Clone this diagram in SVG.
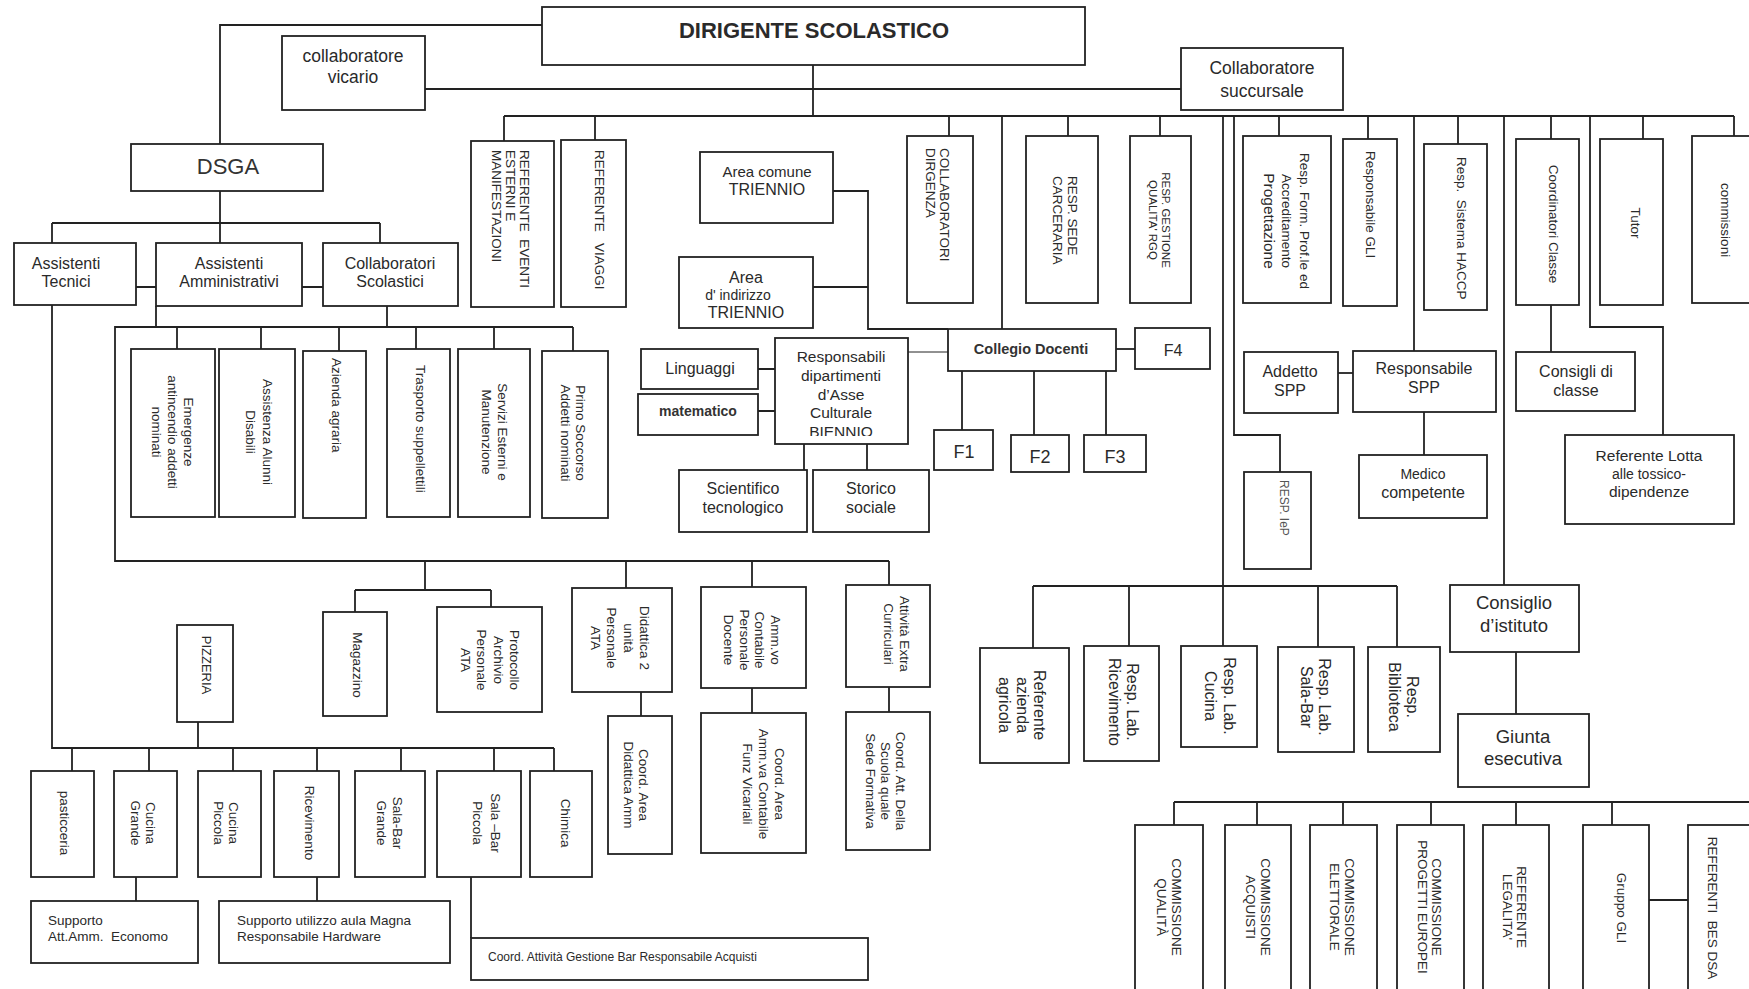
<svg xmlns="http://www.w3.org/2000/svg" width="1749" height="989" viewBox="0 0 1749 989">
<style>
rect{fill:#fff;stroke:#222;stroke-width:1.8}
.c path{fill:none;stroke:#222;stroke-width:1.8}
.c path.thin{stroke-width:1}
text{font-family:"Liberation Sans",Arial,sans-serif;fill:#2a2a2a}
.h{font-size:16px;text-anchor:middle}
.v{font-size:13.5px;text-anchor:middle}
.s{text-anchor:start}
.l{font-size:16px;text-anchor:middle}
</style>
<defs>
<clipPath id="clipResp"><rect x="776" y="350" width="131" height="86"/></clipPath>
</defs>
<rect x="0" y="0" width="1749" height="989" style="fill:#fff;stroke:none"/>

<g class="c" id="connectors">
<path d="M542,25H220V144"/>
<path d="M425,89H1181"/>
<path d="M813,65V116"/>
<path d="M504,116H1734"/>
<path d="M504,116V141M595,116V140M949,116V136M1068,116V136M1160,116V136M1279,116V136M1368,116V139M1458,116V144M1551,116V139M1643,116V139M1734,116V136"/>
<path d="M1002,116V329"/>
<path d="M1223,116V646"/>
<path d="M1234,116V435H1280V472"/>
<path d="M1414,116V351"/>
<path d="M1504,116V585"/>
<path d="M1590,116V327H1663V435"/>
<path d="M1551,305V352"/>
<path d="M833,191H868V329H948"/>
<path d="M813,287H868"/>
<path class="thin" d="M908,352H948"/>
<path d="M1116,349H1135"/>
<path d="M962,371V430M1034,371V435M1106,371V435"/>
<path d="M758,369H775M758,411H775"/>
<path d="M804,444V470M867,444V470"/>
<path d="M1338,373H1353"/>
<path d="M1424,412V455"/>
<path d="M1516,652V714"/>
<path d="M1033,586H1397M1033,586V648M1129,586V646M1318,586V647M1397,586V647"/>
<path d="M1174,802H1760M1174,802V825M1257,802V825M1343,802V825M1431,802V825M1516,802V825M1612,802V825"/>
<path d="M1649,900H1688"/>
<path d="M220,191V243M52,223H380M52,223V243M380,223V243"/>
<path d="M136,287H156M302,287H323"/>
<path d="M156,306V327H115V561H889"/>
<path d="M387,306V327M115,327H573"/>
<path d="M177,327V349M261,327V349M339,327V351M416,327V349M494,327V349M573,327V351"/>
<path d="M425,561V590M355,590H491M355,590V612M491,590V607M626,561V588M752,561V587M889,561V585"/>
<path d="M641,692V716M752,688V713M889,687V712"/>
<path d="M52,305V748H554M198,722V748"/>
<path d="M72,748V771M149,748V771M233,748V771M317,748V771M401,748V771M494,748V771M554,748V771"/>
<path d="M136,877V901M317,877V901M471,877V938"/>
</g>

<g id="n-dirigente"><rect x="542" y="7" width="543" height="58"/><text x="814" y="38" style="font-size:22px;font-weight:bold;text-anchor:middle">DIRIGENTE SCOLASTICO</text></g>
<g id="n-vicario"><rect x="282" y="36" width="143" height="74"/><text class="h" style="font-size:17.5px" x="353" y="62">collaboratore<tspan x="353" y="83">vicario</tspan></text></g>
<g id="n-succursale"><rect x="1181" y="48" width="162" height="62"/><text class="h" style="font-size:17.5px" x="1262" y="74">Collaboratore<tspan x="1262" y="97">succursale</tspan></text></g>
<g id="n-dsga"><rect x="131" y="144" width="192" height="47"/><text class="h" style="font-size:22px;fill:#333" x="228" y="174">DSGA</text></g>
<g id="n-ass-tecnici"><rect x="14" y="243" width="122" height="62"/><text class="h" x="66" y="269">Assistenti<tspan x="66" y="287">Tecnici</tspan></text></g>
<g id="n-ass-amm"><rect x="156" y="243" width="146" height="63"/><text class="h" x="229" y="269">Assistenti<tspan x="229" y="287">Amministrativi</tspan></text></g>
<g id="n-coll-scol"><rect x="323" y="243" width="135" height="63"/><text class="h" x="390" y="269">Collaboratori<tspan x="390" y="287">Scolastici</tspan></text></g>

<g id="n-ref-eventi"><rect x="471" y="141" width="83" height="166"/><text class="v s" transform="translate(520,150) rotate(90)"><tspan x="0" y="0">REFERENTE&#160; EVENTI</tspan><tspan x="0" dy="14">ESTERNI E</tspan><tspan x="0" dy="14">MANIFESTAZIONI</tspan></text></g>
<g id="n-ref-viaggi"><rect x="561" y="140" width="65" height="167"/><text class="v s" transform="translate(595,150) rotate(90)">REFERENTE&#160;&#160; VIAGGI</text></g>
<g id="n-area-comune"><rect x="700" y="152" width="133" height="71"/><text class="h" style="font-size:15px" x="767" y="177">Area comune</text><text class="h" x="767" y="195">TRIENNIO</text></g>
<g id="n-area-indirizzo"><rect x="679" y="257" width="134" height="71"/><text class="h" x="746" y="283">Area</text><text class="h" style="font-size:14px" x="738" y="300">d' indirizzo</text><text class="h" x="746" y="318">TRIENNIO</text></g>
<g id="n-collab-dirigenza"><rect x="907" y="136" width="66" height="167"/><text class="v s" transform="translate(940,148) rotate(90)"><tspan x="0" y="0">COLLABORATORI</tspan><tspan x="0" dy="14">DIRGENZA</tspan></text></g>
<g id="n-resp-sede"><rect x="1026" y="136" width="72" height="167"/><text class="v s" transform="translate(1068,176) rotate(90)"><tspan x="0" y="0">RESP. SEDE</tspan><tspan x="0" dy="15">CARCERARIA</tspan></text></g>
<g id="n-resp-gestione"><rect x="1130" y="136" width="61" height="167"/><text class="v" style="font-size:11.5px" transform="translate(1162,220) rotate(90)"><tspan x="0" y="0">RESP. GESTIONE</tspan><tspan x="0" dy="13">QUALITA' RGQ</tspan></text></g>
<g id="n-resp-form"><rect x="1243" y="136" width="88" height="167"/><text class="v" transform="translate(1300,221) rotate(90)"><tspan x="0" y="0">Resp. Form. Prof.le ed</tspan><tspan x="0" dy="18">Accreditamento</tspan><tspan x="0" dy="18" style="font-size:15.5px">Progettazione</tspan></text></g>
<g id="n-resp-gli"><rect x="1343" y="139" width="54" height="167"/><text class="v s" transform="translate(1366,151) rotate(90)">Responsabile GLI</text></g>
<g id="n-haccp"><rect x="1424" y="144" width="63" height="166"/><text class="v s" transform="translate(1457,157) rotate(90)">Resp.&#160; Sistema HACCP</text></g>
<g id="n-coordinatori"><rect x="1516" y="139" width="63" height="166"/><text class="v" transform="translate(1549,224) rotate(90)">Coordinatori Classe</text></g>
<g id="n-tutor"><rect x="1600" y="139" width="63" height="166"/><text class="v" transform="translate(1631,223) rotate(90)">Tutor</text></g>
<g id="n-commissioni"><rect x="1692" y="136" width="80" height="167"/><text class="v" transform="translate(1721,220) rotate(90)">commissioni</text></g>

<g id="n-emergenze"><rect x="131" y="349" width="84" height="168"/><text class="v" transform="translate(184,432) rotate(90)"><tspan x="0" y="0">Emergenze</tspan><tspan x="0" dy="16">antincendio addetti</tspan><tspan x="0" dy="16">nominati</tspan></text></g>
<g id="n-assistenza"><rect x="219" y="349" width="76" height="168"/><text class="v" transform="translate(263,432) rotate(90)"><tspan x="0" y="0">Assistenza Alunni</tspan><tspan x="0" dy="17">Disabili</tspan></text></g>
<g id="n-azienda"><rect x="303" y="351" width="63" height="167"/><text class="v s" transform="translate(332,358) rotate(90)">Azienda agraria</text></g>
<g id="n-trasporto"><rect x="387" y="349" width="63" height="168"/><text class="v s" transform="translate(416,365) rotate(90)">Trasporto suppellettili</text></g>
<g id="n-servizi"><rect x="458" y="349" width="72" height="168"/><text class="v" transform="translate(498,432) rotate(90)"><tspan x="0" y="0">Servizi Esterni e</tspan><tspan x="0" dy="16">Manutenzione</tspan></text></g>
<g id="n-primo"><rect x="542" y="351" width="66" height="167"/><text class="v" transform="translate(576,433) rotate(90)"><tspan x="0" y="0">Primo Soccorso</tspan><tspan x="0" dy="15">Addetti nominati</tspan></text></g>

<g id="n-linguaggi"><rect x="641" y="349" width="117" height="40"/><text class="h" x="700" y="374">Linguaggi</text></g>
<g id="n-matematico"><rect x="638" y="394" width="120" height="41"/><text class="h" style="font-size:14px;font-weight:bold;fill:#333" x="698" y="416">matematico</text></g>
<g id="n-resp-dip"><rect x="775" y="338" width="133" height="106"/><text class="h" style="font-size:15.5px" clip-path="url(#clipResp)" x="841" y="362">Responsabili<tspan x="841" y="381">dipartimenti</tspan><tspan x="841" y="400">d’Asse</tspan><tspan x="841" y="418">Culturale</tspan><tspan x="841" y="437">BIENNIO</tspan></text></g>
<g id="n-scientifico"><rect x="679" y="470" width="128" height="62"/><text class="h" x="743" y="494">Scientifico<tspan x="743" y="513">tecnologico</tspan></text></g>
<g id="n-storico"><rect x="813" y="470" width="116" height="62"/><text class="h" x="871" y="494">Storico<tspan x="871" y="513">sociale</tspan></text></g>
<g id="n-collegio"><rect x="948" y="329" width="168" height="42"/><text class="h" style="font-size:14.5px;font-weight:bold;fill:#333" x="1031" y="354">Collegio Docenti</text></g>
<g id="n-f4"><rect x="1135" y="328" width="75" height="41"/><text class="h" x="1173" y="356">F4</text></g>
<g id="n-f1"><rect x="934" y="430" width="59" height="40"/><text class="h" style="font-size:18px" x="964" y="458">F1</text></g>
<g id="n-f2"><rect x="1011" y="435" width="58" height="37"/><text class="h" style="font-size:18px" x="1040" y="463">F2</text></g>
<g id="n-f3"><rect x="1084" y="435" width="62" height="37"/><text class="h" style="font-size:18px" x="1115" y="463">F3</text></g>

<g id="n-addetto-spp"><rect x="1244" y="352" width="94" height="61"/><text class="h" x="1290" y="377">Addetto<tspan x="1290" y="396">SPP</tspan></text></g>
<g id="n-resp-spp"><rect x="1353" y="351" width="143" height="61"/><text class="h" x="1424" y="374">Responsabile<tspan x="1424" y="393">SPP</tspan></text></g>
<g id="n-medico"><rect x="1359" y="455" width="128" height="63"/><text class="h" style="font-size:14px" x="1423" y="479">Medico</text><text class="h" x="1423" y="498">competente</text></g>
<g id="n-resp-iep"><rect x="1244" y="472" width="67" height="97"/><text class="v s" style="font-size:12px;fill:#555" transform="translate(1280,480) rotate(90)">RESP. IeP</text></g>
<g id="n-consigli-classe"><rect x="1516" y="352" width="119" height="59"/><text class="h" x="1576" y="377">Consigli di<tspan x="1576" y="396">classe</tspan></text></g>
<g id="n-lotta"><rect x="1565" y="435" width="169" height="89"/><text class="h" style="font-size:15.5px" x="1649" y="461">Referente Lotta</text><text class="h" style="font-size:14px" x="1649" y="479">alle tossico-</text><text class="h" style="font-size:15.5px" x="1649" y="497">dipendenze</text></g>
<g id="n-consiglio-ist"><rect x="1450" y="585" width="129" height="67"/><text class="h" style="font-size:18.5px" x="1514" y="609">Consiglio<tspan x="1514" y="632">d’istituto</tspan></text></g>
<g id="n-giunta"><rect x="1458" y="714" width="131" height="73"/><text class="h" style="font-size:18.5px" x="1523" y="743">Giunta<tspan x="1523" y="765">esecutiva</tspan></text></g>

<g id="n-ref-azienda"><rect x="980" y="648" width="89" height="115"/><text class="v" style="font-size:16px" transform="translate(1034,705) rotate(90)"><tspan x="0" y="0">Referente</tspan><tspan x="0" dy="17.5">azienda</tspan><tspan x="0" dy="17.5">agricola</tspan></text></g>
<g id="n-lab-ricev"><rect x="1084" y="646" width="75" height="115"/><text class="v" style="font-size:16px" transform="translate(1127,702) rotate(90)"><tspan x="0" y="0">Resp. Lab.</tspan><tspan x="0" dy="18">Ricevimento</tspan></text></g>
<g id="n-lab-cucina"><rect x="1181" y="646" width="76" height="101"/><text class="v" style="font-size:16px" transform="translate(1224,696) rotate(90)"><tspan x="0" y="0">Resp. Lab.</tspan><tspan x="0" dy="19">Cucina</tspan></text></g>
<g id="n-lab-salabar"><rect x="1278" y="647" width="76" height="105"/><text class="v" style="font-size:16px" transform="translate(1319,697) rotate(90)"><tspan x="0" y="0">Resp. Lab.</tspan><tspan x="0" dy="18">Sala-Bar</tspan></text></g>
<g id="n-biblioteca"><rect x="1368" y="647" width="72" height="105"/><text class="v" style="font-size:16px" transform="translate(1407,697) rotate(90)"><tspan x="0" y="0">Resp.</tspan><tspan x="0" dy="18">Biblioteca</tspan></text></g>

<g id="n-comm-qualita"><rect x="1135" y="825" width="68" height="180"/><text class="v" transform="translate(1172,907) rotate(90)"><tspan x="0" y="0">COMMISSIONE</tspan><tspan x="0" dy="15">QUALITÀ</tspan></text></g>
<g id="n-comm-acquisti"><rect x="1225" y="825" width="66" height="180"/><text class="v" transform="translate(1261,907) rotate(90)"><tspan x="0" y="0">COMMISSIONE</tspan><tspan x="0" dy="15">ACQUISTI</tspan></text></g>
<g id="n-comm-elettorale"><rect x="1310" y="825" width="67" height="180"/><text class="v" transform="translate(1345,907) rotate(90)"><tspan x="0" y="0">COMMISSIONE</tspan><tspan x="0" dy="15">ELETTORALE</tspan></text></g>
<g id="n-comm-progetti"><rect x="1397" y="825" width="67" height="180"/><text class="v" transform="translate(1432,907) rotate(90)"><tspan x="0" y="0">COMMISSIONE</tspan><tspan x="0" dy="14">PROGETTI EUROPEI</tspan></text></g>
<g id="n-ref-legalita"><rect x="1483" y="825" width="66" height="180"/><text class="v" transform="translate(1517,907) rotate(90)"><tspan x="0" y="0">REFERENTE</tspan><tspan x="0" dy="14">LEGALITA'</tspan></text></g>
<g id="n-gruppo-gli"><rect x="1583" y="825" width="66" height="180"/><text class="v" transform="translate(1617,908) rotate(90)">Gruppo GLI</text></g>
<g id="n-ref-bes"><rect x="1688" y="825" width="80" height="180"/><text class="v" transform="translate(1708,908) rotate(90)">REFERENTI&#160; BES DSA</text></g>

<g id="n-magazzino"><rect x="323" y="612" width="64" height="104"/><text class="v" transform="translate(353,665) rotate(90)">Magazzino</text></g>
<g id="n-protocollo"><rect x="437" y="607" width="105" height="105"/><text class="v" transform="translate(510,660) rotate(90)"><tspan x="0" y="0">Protocollo</tspan><tspan x="0" dy="16.5">Archivio</tspan><tspan x="0" dy="16.5">Personale</tspan><tspan x="0" dy="16.5">ATA</tspan></text></g>
<g id="n-didattica"><rect x="572" y="588" width="100" height="104"/><text class="v" transform="translate(640,638) rotate(90)"><tspan x="0" y="0">Didattica 2</tspan><tspan x="0" dy="16.5">unità</tspan><tspan x="0" dy="16.5">Personale</tspan><tspan x="0" dy="16.5">ATA</tspan></text></g>
<g id="n-coord-didattica"><rect x="608" y="716" width="64" height="138"/><text class="v" transform="translate(639,785) rotate(90)"><tspan x="0" y="0">Coord. Area</tspan><tspan x="0" dy="15">Didattica Amm</tspan></text></g>
<g id="n-ammvo"><rect x="701" y="587" width="105" height="101"/><text class="v" transform="translate(771,640) rotate(90)"><tspan x="0" y="0">Amm.vo</tspan><tspan x="0" dy="15.7">Contabile</tspan><tspan x="0" dy="15.7">Personale</tspan><tspan x="0" dy="15.7">Docente</tspan></text></g>
<g id="n-coord-amm"><rect x="701" y="713" width="105" height="140"/><text class="v" transform="translate(775,784) rotate(90)"><tspan x="0" y="0">Coord. Area</tspan><tspan x="0" dy="16">Amm.va Contabile</tspan><tspan x="0" dy="16">Funz Vicariali</tspan></text></g>
<g id="n-attivita"><rect x="846" y="585" width="84" height="102"/><text class="v" transform="translate(900,634) rotate(90)"><tspan x="0" y="0">Attività Extra</tspan><tspan x="0" dy="16">Curriculari</tspan></text></g>
<g id="n-coord-att"><rect x="846" y="712" width="84" height="138"/><text class="v" transform="translate(896,781) rotate(90)"><tspan x="0" y="0">Coord. Att. Della</tspan><tspan x="0" dy="15">Scuola quale</tspan><tspan x="0" dy="15">Sede Formativa</tspan></text></g>

<g id="n-pizzeria"><rect x="177" y="625" width="56" height="97"/><text class="v" style="font-size:13px" transform="translate(202,665) rotate(90)">PIZZERIA</text></g>
<g id="n-pasticceria"><rect x="31" y="771" width="63" height="106"/><text class="v" transform="translate(60,823) rotate(90)">pasticceria</text></g>
<g id="n-cucina-grande"><rect x="114" y="771" width="63" height="106"/><text class="v" transform="translate(146,823) rotate(90)"><tspan x="0" y="0">Cucina</tspan><tspan x="0" dy="15">Grande</tspan></text></g>
<g id="n-cucina-piccola"><rect x="198" y="771" width="63" height="106"/><text class="v" transform="translate(229,823) rotate(90)"><tspan x="0" y="0">Cucina</tspan><tspan x="0" dy="15">Piccola</tspan></text></g>
<g id="n-ricevimento"><rect x="274" y="771" width="65" height="106"/><text class="v" transform="translate(305,823) rotate(90)">Ricevimento</text></g>
<g id="n-salabar-grande"><rect x="355" y="771" width="70" height="106"/><text class="v" transform="translate(393,823) rotate(90)"><tspan x="0" y="0">Sala-Bar</tspan><tspan x="0" dy="16">Grande</tspan></text></g>
<g id="n-salabar-piccola"><rect x="437" y="771" width="84" height="106"/><text class="v" transform="translate(491,823) rotate(90)"><tspan x="0" y="0">Sala –Bar</tspan><tspan x="0" dy="18">Piccola</tspan></text></g>
<g id="n-chimica"><rect x="530" y="771" width="62" height="106"/><text class="v" transform="translate(561,823) rotate(90)">Chimica</text></g>
<g id="n-supporto-att"><rect x="31" y="901" width="167" height="62"/><text style="font-size:13.5px" x="48" y="925">Supporto<tspan x="48" y="941">Att.Amm.&#160; Economo</tspan></text></g>
<g id="n-supporto-aula"><rect x="219" y="901" width="231" height="62"/><text style="font-size:13.5px" x="237" y="925">Supporto utilizzo aula Magna<tspan x="237" y="941">Responsabile Hardware</tspan></text></g>
<g id="n-coord-bar"><rect x="471" y="938" width="397" height="42"/><text style="font-size:12px" x="488" y="961">Coord. Attività Gestione Bar Responsabile Acquisti</text></g>
</svg>
